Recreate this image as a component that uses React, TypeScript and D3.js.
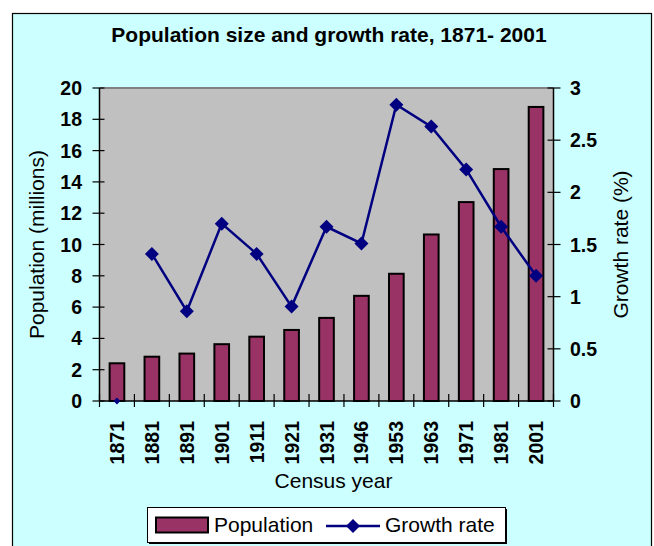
import React from "react";
import * as d3 from "d3";

const years = ["1871", "1881", "1891", "1901", "1911", "1921", "1931", "1946", "1953", "1963", "1971", "1981", "2001"];
const population = [2.41, 2.83, 3.03, 3.63, 4.11, 4.54, 5.31, 6.72, 8.13, 10.64, 12.71, 14.82, 18.79];
const growthRate: (number | null)[] = [null, 1.41, 0.86, 1.7, 1.41, 0.905, 1.67, 1.51, 2.84, 2.63, 2.22, 1.67, 1.2];
const popTicks = [0, 2, 4, 6, 8, 10, 12, 14, 16, 18, 20];
const rateTicks = [0, 0.5, 1, 1.5, 2, 2.5, 3];

const W = 654;
const H = 546;
const FONT = "'Liberation Sans', Arial, Helvetica, sans-serif";
const BAR = "#993366";
const LINE = "#000080";

const plot = { left: 99.5, right: 553.5, top: 88, bottom: 401 };

const diamond = (cx: number, cy: number, r: number) =>
  `M${cx},${cy - r}L${cx + r},${cy}L${cx},${cy + r}L${cx - r},${cy}Z`;

export default function App() {
  const x = d3.scaleBand<string>().domain(years).range([plot.left, plot.right]).paddingInner(0).paddingOuter(0);
  const yPop = d3.scaleLinear().domain([0, 20]).range([plot.bottom, plot.top]);
  const yRate = d3.scaleLinear().domain([0, 3]).range([plot.bottom, plot.top]);
  const bw = x.bandwidth();
  const barW = bw * 0.42;
  const cx = (y: string) => (x(y) as number) + bw / 2;

  const pts = years.map((y, i) => ({ y, v: growthRate[i] }));
  const line = d3
    .line<{ y: string; v: number | null }>()
    .defined((d) => d.v !== null)
    .x((d) => cx(d.y))
    .y((d) => yRate(d.v as number));

  const boundaries = years.map((y) => x(y) as number).concat([plot.right]);

  return (
    <svg width={W} height={H} style={{ display: "block", position: "absolute", left: 0, top: 0 }}>
      <rect x={0} y={0} width={W} height={H} fill="#ffffff" />
      <rect x={12.5} y={13.5} width={639} height={560} fill="#CCFFFF" stroke="#000" strokeWidth={1.2} />

      <text x={329} y={41.5} textAnchor="middle" fontFamily={FONT} fontWeight="bold" fontSize={21}>
        Population size and growth rate, 1871- 2001
      </text>

      {/* plot area */}
      <rect x={plot.left} y={plot.top} width={plot.right - plot.left} height={plot.bottom - plot.top} fill="#C0C0C0" />
      <line x1={plot.left} x2={plot.right} y1={plot.top} y2={plot.top} stroke="#808080" strokeWidth={2} />

      {/* bars */}
      {years.map((y, i) => (
        <rect
          key={y}
          x={cx(y) - barW / 2}
          y={yPop(population[i])}
          width={barW}
          height={plot.bottom - yPop(population[i])}
          fill={BAR}
          stroke="#000"
          strokeWidth={2}
        />
      ))}

      {/* axes */}
      <line x1={plot.left} x2={plot.left} y1={plot.top} y2={plot.bottom} stroke="#000" strokeWidth={1.5} />
      <line x1={plot.right} x2={plot.right} y1={plot.top} y2={plot.bottom} stroke="#000" strokeWidth={1.5} />
      <line x1={plot.left} x2={plot.right} y1={plot.bottom} y2={plot.bottom} stroke="#000" strokeWidth={1.5} />

      {popTicks.map((t) => (
        <g key={"p" + t}>
          <line x1={plot.left - 7} x2={plot.left + 5} y1={yPop(t)} y2={yPop(t)} stroke="#000" strokeWidth={1.2} />
          <text x={82} y={yPop(t) + 7} textAnchor="end" fontFamily={FONT} fontWeight="bold" fontSize={19.5}>
            {t}
          </text>
        </g>
      ))}
      {rateTicks.map((t) => (
        <g key={"r" + t}>
          <line x1={plot.right - 6} x2={plot.right + 7} y1={yRate(t)} y2={yRate(t)} stroke="#000" strokeWidth={1.2} />
          <text x={570} y={yRate(t) + 7} textAnchor="start" fontFamily={FONT} fontWeight="bold" fontSize={19.5}>
            {t}
          </text>
        </g>
      ))}
      {boundaries.map((b, i) => (
        <line key={"b" + i} x1={b} x2={b} y1={plot.bottom - 7} y2={plot.bottom + 6} stroke="#000" strokeWidth={1.2} />
      ))}
      {years.map((y) => (
        <text
          key={"t" + y}
          transform={`translate(${cx(y) + 7},${421}) rotate(-90)`}
          textAnchor="end"
          fontFamily={FONT}
          fontWeight="bold"
          fontSize={19.5}
        >
          {y}
        </text>
      ))}

      {/* growth-rate line */}
      <path d={line(pts) ?? ""} fill="none" stroke={LINE} strokeWidth={2.5} />
      {pts.map((d) =>
        d.v === null ? (
          <path key={"m" + d.y} d={diamond(cx(d.y), plot.bottom, 3.5)} fill={LINE} />
        ) : (
          <path key={"m" + d.y} d={diamond(cx(d.y), yRate(d.v), 7)} fill={LINE} />
        )
      )}

      {/* axis titles */}
      <text transform="translate(44,244.5) rotate(-90)" textAnchor="middle" fontFamily={FONT} fontSize={21}>
        Population (millions)
      </text>
      <text transform="translate(628,244.5) rotate(-90)" textAnchor="middle" fontFamily={FONT} fontSize={21}>
        Growth rate (%)
      </text>
      <text x={333.5} y={488} textAnchor="middle" fontFamily={FONT} fontSize={21}>
        Census year
      </text>

      {/* legend */}
      <rect x={149} y={509} width={358} height={35} fill="#000" />
      <rect x={147.5} y={507.5} width={358} height={35} fill="#fff" stroke="#000" strokeWidth={1} />
      <rect x={156} y={517.5} width={52} height={15} fill={BAR} stroke="#000" strokeWidth={2} />
      <text x={214} y={532} fontFamily={FONT} fontSize={21}>
        Population
      </text>
      <line x1={326} x2={380} y1={526} y2={526} stroke={LINE} strokeWidth={2.5} />
      <path d={diamond(353, 526, 7)} fill={LINE} />
      <text x={385} y={532} fontFamily={FONT} fontSize={21}>
        Growth rate
      </text>
    </svg>
  );
}
